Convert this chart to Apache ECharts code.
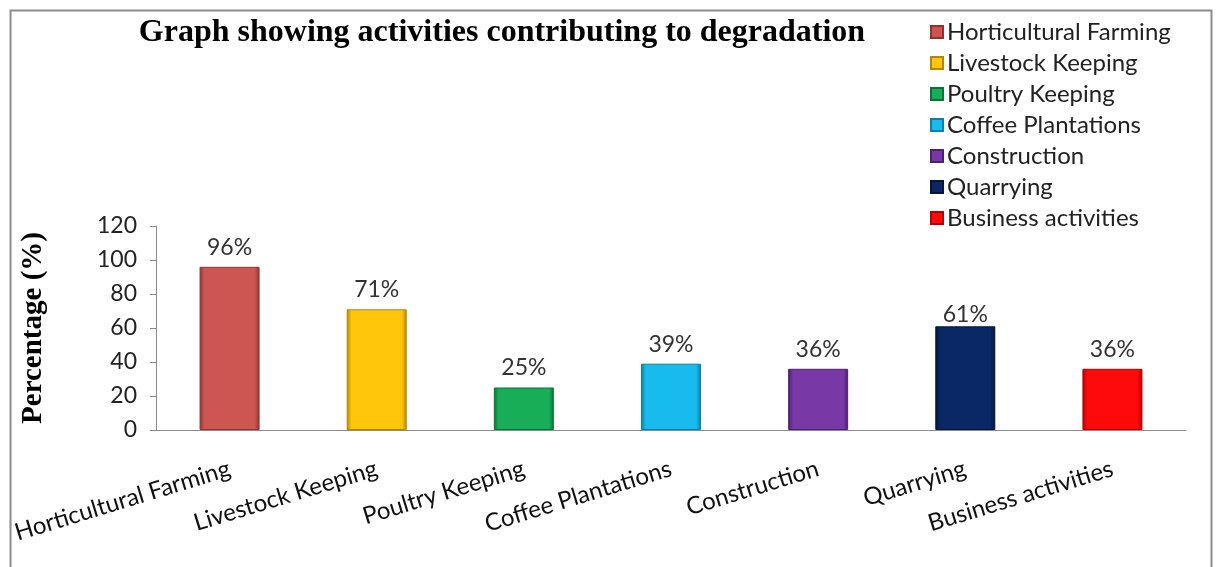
<!DOCTYPE html>
<html>
<head>
<meta charset="utf-8">
<script src="https://cdn.jsdelivr.net/npm/echarts@6/dist/echarts.min.js"></script>
<style>
  html, body { margin: 0; padding: 0; background: #fff; }
  #chart { width: 1216px; height: 567px; }
</style>
</head>
<body>
<div id="chart"></div>
<script>
// Activities and the share of respondents naming each one
const categories = ['Horticultural Farming', 'Livestock Keeping', 'Poultry Keeping', 'Coffee Plantations', 'Construction', 'Quarrying', 'Business activities'];
const percentages = [96, 71, 25, 39, 36, 61, 36];
const barColors = ['#CD5652', '#FFC60A', '#18AE58', '#17BBEE', '#7838A6', '#0A2766', '#FF0A0A'];
const edgeColors = ['#8E3431', '#B38600', '#0E7039', '#0C7EA8', '#4C1F70', '#041538', '#B00000'];
const yTicks = { min: 0, max: 120, interval: 20 };

const LABEL_FONT = 'Lato, "Open Sans", sans-serif';

// horizontal gradient with darker edges for a bevelled bar look
function shade(c, e) {
  return {
    type: 'linear', x: 0, y: 0, x2: 1, y2: 0,
    colorStops: [
      { offset: 0, color: e },
      { offset: 0.08, color: c },
      { offset: 0.92, color: c },
      { offset: 1, color: e }
    ]
  };
}

// one series per activity so that each gets its own legend entry;
// the Quarrying label sits tight on its bar, clear of the legend
const series = categories.map((name, i) => ({
  name: name,
  type: 'bar',
  stack: 'all',
  barWidth: 60,
  itemStyle: { color: shade(barColors[i], edgeColors[i]), borderColor: edgeColors[i], borderWidth: 1 },
  label: {
    show: true, position: 'top', distance: name === 'Quarrying' ? 0 : 8,
    formatter: p => p.value + '%',
    color: '#333', fontFamily: LABEL_FONT, fontSize: 23
  },
  data: categories.map((c, j) => (j === i ? percentages[i] : '-'))
}));

const chart = echarts.init(document.getElementById('chart'), null, { renderer: 'canvas' });
chart.setOption({
  animation: false,
  backgroundColor: '#fff',
  color: barColors,
  title: {
    text: 'Graph showing activities contributing to degradation',
    left: 497, top: 12, textAlign: 'center',
    textStyle: { fontFamily: '"Liberation Serif", serif', fontWeight: 'bold', fontSize: 32, color: '#000' }
  },
  legend: {
    orient: 'vertical', left: 925, top: 15,
    icon: 'rect', itemWidth: 12, itemHeight: 12, itemGap: 7,
    textStyle: { fontFamily: LABEL_FONT, fontSize: 24, color: '#222', lineHeight: 24, padding: [0, 0, 0, -1] },
    data: categories
  },
  grid: { left: 156, right: 30, top: 226, bottom: 137 },
  xAxis: {
    type: 'category', data: categories,
    axisLine: { lineStyle: { color: '#8a8a8a', width: 1 } },
    axisTick: { show: false },
    axisLabel: { rotate: 17, interval: 0, margin: 38, fontFamily: LABEL_FONT, fontSize: 24, color: '#111' }
  },
  yAxis: {
    type: 'value', min: yTicks.min, max: yTicks.max, interval: yTicks.interval,
    name: 'Percentage (%)', nameLocation: 'middle', nameGap: 108, nameRotate: 90,
    nameTextStyle: { fontFamily: '"Liberation Serif", serif', fontWeight: 'bold', fontSize: 29, color: '#000' },
    axisLine: { show: true, lineStyle: { color: '#8a8a8a' } },
    axisTick: { show: true, length: 6, lineStyle: { color: '#8a8a8a' } },
    splitLine: { show: false },
    axisLabel: { margin: 19, fontFamily: LABEL_FONT, fontSize: 23, color: '#222' }
  },
  graphic: [{
    type: 'rect', left: 8, top: 8, z: -1,
    shape: { width: 1201, height: 600 },
    style: { fill: 'none', stroke: '#8c8c8c', lineWidth: 2 }
  }],
  series: series
});
</script>
</body>
</html>
